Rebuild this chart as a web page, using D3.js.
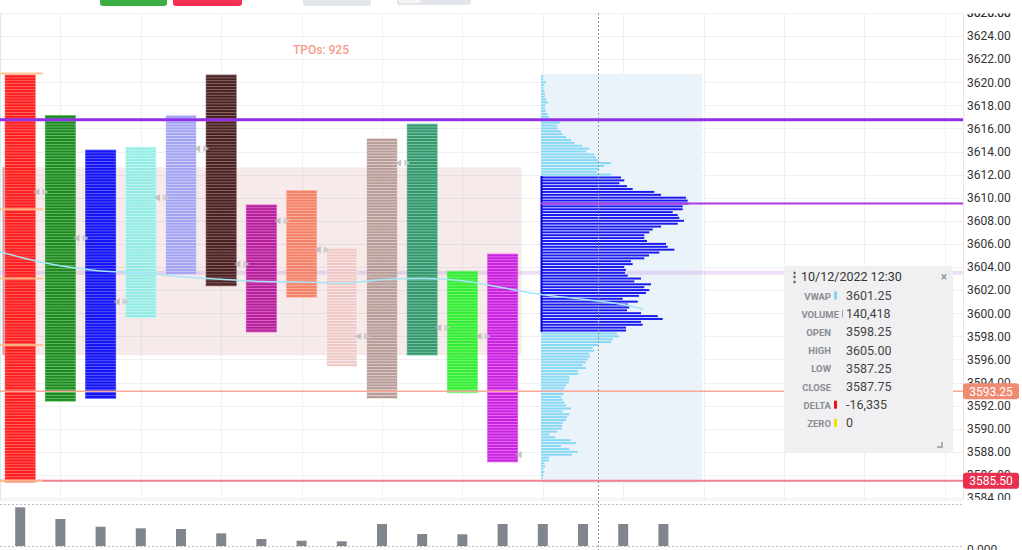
<!DOCTYPE html>
<html>
<head>
<meta charset="utf-8">
<script src="https://cdn.jsdelivr.net/npm/d3@7"></script>
<style>
  body { margin: 0; background: #fff; overflow: hidden; }
  svg { display: block; font-family: Roboto, "Noto Sans", sans-serif; }
</style>
</head>
<body>
<svg id="chart" width="1022" height="550"></svg>
<script>
// --- data ---
const periods = ["06:30", "07:00", "07:30", "08:00", "08:30", "09:00", "09:30", "10:00", "10:30",
  "11:00", "11:30", "12:00", "12:30", "13:00", "13:30", "14:00", "14:30"];

// TPO columns (one per 30 min period)
const tpoHigh = [3620.5, 3617, 3614, 3614.25, 3617, 3620.5, 3609.25, 3610.5, 3605.5, 3615, 3616.25, 3603.5, 3605];
const tpoLow = [3585.5, 3592.5, 3592.75, 3599.75, 3603.5, 3602.5, 3598.5, 3601.5, 3595.5, 3592.75, 3596.5, 3593.25, 3587.25];
const tpoClose = [3610.5, 3606.5, 3601, 3610, 3614.25, 3604.25, 3608, 3605.5, 3598, 3613, 3598.75, 3598, 3587.75];
const tpoColors = ["#ff1f1f", "#1f8a22", "#1414f5", "#93ebe2", "#a3a3f3", "#4a2222", "#b3229a",
  "#f4826b", "#efc8c6", "#b59d99", "#36976f", "#35ec35", "#c326dc"];

// volume bars in the lower pane
const barVolume = [247000, 172300, 123200, 113000, 108500, 81000, 44700, 33800, 30000, 140400,
  76600, 74700, 140418, 140418, 140418, 140418, 140418];

// VWAP curve (period index, price)
const vwapSlot = [-1, -0.5, 0, 1, 2, 3, 4, 5, 6, 7, 8, 9, 10, 11, 12, 13, 14, 15, 15.5];
const vwapPrice = [3605.7, 3605.3, 3604.85, 3604.1, 3603.65, 3603.5, 3603.15, 3602.95, 3602.75, 3602.7,
  3602.6, 3602.9, 3603, 3602.8, 3602.2, 3601.6, 3601.2, 3600.75, 3600.35];

// volume profile, one value per 0.25 from the top price down
const profileTop = 3620.5;
const profileVolume = [92, 92, 200, 132, 92, 132, 160, 148, 200, 268, 172, 160, 200, 268, 308, 440, 760, 628, 668, 800,
  868, 1000, 1200, 1332, 1640, 1932, 1800, 2132, 2200, 2268, 2800, 2532, 2332, 2240, 2800,
  3200, 3332, 3132, 3440, 3668, 4532, 4800, 5800, 5868, 5900, 5668, 5668, 5268, 5468, 5532,
  5720, 5468, 4800, 4468, 4332, 4132, 4132, 4240, 5000, 5068, 5332, 4732, 4320, 4132, 3600,
  3668, 3332, 3400, 3360, 3468, 4000, 3732, 4400, 4132, 4332, 4200, 3920, 3268, 3868, 3468,
  3532, 3440, 4000, 4668, 4868, 4000, 4068, 3400, 3400,
  3040, 3132, 2868, 2800, 2300, 2068, 2132, 1932, 1960, 1868, 1800, 1668, 1800, 1468, 1508,
  1132, 1132, 1108, 1000, 932, 868, 900, 800, 868, 932, 1000, 1200, 868, 1132, 1040, 1000,
  868, 840, 840, 640, 332, 572, 1200, 1400, 800, 1132, 1468, 1240, 332, 308, 132, 160, 92, 132, 92, 68];
const profileVAHigh = 3611.75, profileVALow = 3598.5, profilePOC = 3609.5;

// TPO value area box
const vaHigh = 3612.5, vaLow = 3596.5;

// reference lines
const highLine = 3616.75, midLine = 3603.5, lastLine = 3593.25, lowLine = 3585.5;
const sideTicks = [3620.75, 3609, 3603, 3597.25, 3585.5];

// tooltip
const tipTitle = "10/12/2022 12:30";
const tipLabels = ["VWAP", "VOLUME", "OPEN", "HIGH", "LOW", "CLOSE", "DELTA", "ZERO"];
const tipValues = ["3601.25", "140,418", "3598.25", "3605.00", "3587.25", "3587.75", "-16,335", "0"];
const tipMarks = ["#7fd8f5", "#a0a4aa", null, null, null, null, "#ee1111", "#f2e000"];

const axisTicks = d3.range(3584, 3627, 2);
const badges = [{ price: 3593.25, color: "#f08a72" }, { price: 3585.5, color: "#e9304e" }];

// --- layout ---
const plotRight = 963, plotTop = 13, plotBottom = 500;
const svg = d3.select("#chart");

const xs = d3.scaleLinear().domain([0, 1]).range([20.2, 60.4]);
const ys = d3.scaleLinear().domain([3584, 3624]).range([498, 36]);
const vs = d3.scaleLinear().domain([0, 260000]).range([546, 505.27]);
const rowH = ys(0) - ys(0.25);

svg.append("defs").append("clipPath").attr("id", "plotClip")
  .append("rect").attr("x", 0).attr("y", plotTop).attr("width", plotRight).attr("height", plotBottom - plotTop);
svg.select("defs").append("clipPath").attr("id", "axisClip")
  .append("rect").attr("x", plotRight).attr("y", 13.5).attr("width", 60).attr("height", plotBottom - 13.5);

const plot = svg.append("g").attr("clip-path", "url(#plotClip)");

// grid
plot.selectAll(".hgrid").data(axisTicks.concat([3626])).enter().append("line")
  .attr("x1", 0).attr("x2", plotRight)
  .attr("y1", d => Math.round(ys(d)) + 0.5).attr("y2", d => Math.round(ys(d)) + 0.5)
  .attr("stroke", "#eef0f3");
plot.selectAll(".vgrid").data(d3.range(1, 24, 2)).enter().append("line")
  .attr("x1", d => Math.round(xs(d)) + 0.5).attr("x2", d => Math.round(xs(d)) + 0.5)
  .attr("y1", plotTop).attr("y2", plotBottom)
  .attr("stroke", "#eef0f3");
plot.append("line").attr("x1", 0.5).attr("x2", 0.5).attr("y1", plotTop).attr("y2", 550).attr("stroke", "#e3e8ef");

// value area box
plot.append("rect")
  .attr("x", xs(0) - 18).attr("width", xs(12) + 19 - (xs(0) - 18))
  .attr("y", ys(vaHigh) - rowH / 2).attr("height", ys(vaLow) - ys(vaHigh) + rowH)
  .attr("fill", "rgba(215,160,160,0.22)");
plot.append("line")
  .attr("x1", 3.5).attr("x2", 3.5)
  .attr("y1", ys(vaHigh) - rowH / 2).attr("y2", ys(vaLow) + rowH / 2)
  .attr("stroke", "#cfa3a3").attr("stroke-width", 2);

// profile background
const profX = xs(13) - 1.8;
const ps = d3.scaleLinear().domain([0, 6440]).range([0, 161]);
const profPrices = profileVolume.map((v, i) => profileTop - i * 0.25);
plot.append("rect")
  .attr("x", profX).attr("width", ps(6440))
  .attr("y", ys(profileTop) - rowH / 2 - 1)
  .attr("height", ys(profPrices[profPrices.length - 1]) - ys(profileTop) + rowH + 5)
  .attr("fill", "#eaf2fa");

// faint mid line
plot.append("line").attr("x1", 0).attr("x2", plotRight)
  .attr("y1", ys(midLine)).attr("y2", ys(midLine))
  .attr("stroke", "rgba(205,160,232,0.35)").attr("stroke-width", 4);

// TPO columns, one rect per 0.25 row
tpoHigh.forEach((hi, i) => {
  const rows = d3.range(tpoLow[i], hi + 0.01, 0.25);
  const col = plot.append("g");
  col.append("rect")
    .attr("x", xs(i) - 15.5).attr("width", 31)
    .attr("y", ys(hi) - rowH / 2 - 0.5).attr("height", ys(tpoLow[i]) - ys(hi) + rowH + 1)
    .attr("fill", d3.color(tpoColors[i]).brighter(0.7)).attr("opacity", 0.6);
  col.selectAll("rect.row").data(rows).enter().append("rect")
    .attr("class", "row")
    .attr("x", xs(i) - 15).attr("width", 30)
    .attr("y", d => ys(d) - rowH / 2 + 0.35).attr("height", rowH - 0.7)
    .attr("fill", tpoColors[i]);
});

// volume profile bars
plot.selectAll("rect.prof").data(profileVolume).enter().append("rect")
  .attr("class", "prof")
  .attr("x", profX)
  .attr("y", (d, i) => ys(profPrices[i]) - rowH / 2 + 0.45)
  .attr("height", rowH - 0.9)
  .attr("width", d => ps(d))
  .attr("fill", (d, i) => profPrices[i] <= profileVAHigh && profPrices[i] >= profileVALow ? "#1a1af0" : "#86d8f5");
plot.append("line")
  .attr("x1", profX + 0.5).attr("x2", profX + 0.5)
  .attr("y1", ys(profileVAHigh) - rowH / 2).attr("y2", ys(profileVALow) + rowH / 2)
  .attr("stroke", "#0808d8").attr("stroke-width", 2);

// close / open markers between columns
const tri = d3.symbol().type(d3.symbolTriangle).size(22);
tpoClose.forEach((c, i) => {
  const bx = xs(i + 0.5);
  plot.append("path").attr("d", tri)
    .attr("transform", `translate(${bx - 3},${ys(c)}) rotate(-90)`)
    .attr("fill", "#b8b8b8").attr("opacity", 0.8);
  if (i < tpoClose.length - 1) {
    plot.append("path").attr("d", tri)
      .attr("transform", `translate(${bx + 4},${ys(c)}) rotate(90)`)
      .attr("fill", "#c8c8c8").attr("opacity", 0.8);
  }
});

// VWAP
plot.append("path")
  .datum(vwapSlot.map((s, i) => [s, vwapPrice[i]]))
  .attr("d", d3.line().x(d => xs(d[0])).y(d => ys(d[1])).curve(d3.curveMonotoneX))
  .attr("fill", "none").attr("stroke", "#a6e6f7").attr("stroke-width", 1.5);

// level lines
plot.append("line").attr("x1", 0).attr("x2", plotRight)
  .attr("y1", ys(highLine)).attr("y2", ys(highLine))
  .attr("stroke", "#8f2fe8").attr("stroke-width", 3);
plot.append("line").attr("x1", profX).attr("x2", plotRight)
  .attr("y1", ys(profilePOC)).attr("y2", ys(profilePOC))
  .attr("stroke", "#ad3ae6").attr("stroke-width", 2);
plot.append("line").attr("x1", 0).attr("x2", plotRight)
  .attr("y1", ys(lastLine)).attr("y2", ys(lastLine))
  .attr("stroke", "#f7a898").attr("stroke-width", 1.5);
plot.append("line").attr("x1", 0).attr("x2", plotRight)
  .attr("y1", ys(lowLine)).attr("y2", ys(lowLine))
  .attr("stroke", "#f0808f").attr("stroke-width", 2);

plot.selectAll(".sidetick").data(sideTicks).enter().append("line")
  .attr("x1", 0).attr("x2", 43)
  .attr("y1", d => ys(d)).attr("y2", d => ys(d))
  .attr("stroke", "#ffc08c").attr("stroke-width", 2).attr("opacity", 0.9);

// crosshair
svg.append("line").attr("x1", 598.5).attr("x2", 598.5).attr("y1", plotTop).attr("y2", 550)
  .attr("stroke", "#999").attr("stroke-dasharray", "2,2");

// TPO count
svg.append("text").attr("x", 321).attr("y", 54).attr("text-anchor", "middle")
  .attr("font-size", 12).attr("font-weight", 500).attr("fill", "#f59c8a")
  .text("TPOs: 925");

// tooltip
const tip = svg.append("g").attr("transform", "translate(784,266)");
tip.append("rect").attr("width", 169).attr("height", 187).attr("rx", 3)
  .attr("fill", "#eff0f2").attr("opacity", 0.97);
tip.append("text").attr("x", 4).attr("y", 15).attr("font-size", 13).attr("font-weight", 700)
  .attr("fill", "#555").text("⋮");
tip.append("text").attr("x", 17).attr("y", 15).attr("font-size", 12.5).attr("fill", "#333").text(tipTitle);
tip.append("text").attr("x", 160).attr("y", 15).attr("font-size", 12).attr("text-anchor", "middle")
  .attr("fill", "#888").text("×");
tip.append("path").attr("d", "M158,176 V181 H153").attr("fill", "none").attr("stroke", "#999").attr("stroke-width", 1.5);
tipLabels.forEach((lab, i) => {
  const ty = 33.5 + i * 18.2;
  const thin = lab === "VOLUME";
  tip.append("text").attr("x", thin ? 55 : 47).attr("y", ty).attr("text-anchor", "end")
    .attr("font-size", 9.5).attr("font-weight", 700).attr("fill", "#8a8d92").text(lab);
  if (tipMarks[i]) {
    tip.append("rect").attr("x", thin ? 58 : 50).attr("y", ty - 8).attr("width", thin ? 1 : 3).attr("height", 8)
      .attr("fill", tipMarks[i]);
  }
  tip.append("text").attr("x", 62).attr("y", ty + 0.5).attr("font-size", 12.5).attr("fill", "#444").text(tipValues[i]);
});

// price axis
const axG = svg.append("g").attr("clip-path", "url(#axisClip)");
axG.append("line").attr("x1", plotRight + 0.5).attr("x2", plotRight + 0.5).attr("y1", 0).attr("y2", 550)
  .attr("stroke", "#e3e6ea");
const ax = axG.append("g").attr("transform", `translate(${plotRight},0)`)
  .call(d3.axisRight(ys).tickValues(axisTicks.concat([3626])).tickFormat(d3.format(".2f")).tickSize(0).tickPadding(4));
ax.select(".domain").remove();
ax.selectAll("text").attr("font-size", 12).attr("font-family", "Roboto, sans-serif").attr("fill", "#333");

badges.forEach(b => {
  axG.append("rect").attr("x", plotRight).attr("y", ys(b.price) - 8).attr("width", 56).attr("height", 16)
    .attr("rx", 3).attr("fill", b.color);
  axG.append("text").attr("x", plotRight + 28).attr("y", ys(b.price) + 4.5).attr("text-anchor", "middle")
    .attr("font-size", 12).attr("fill", "#fff").text(d3.format(".2f")(b.price));
});

// volume pane
const volG = svg.append("g");
volG.append("line").attr("x1", 0).attr("x2", plotRight).attr("y1", 500.5).attr("y2", 500.5).attr("stroke", "#eef0f3");
[vs(268000), vs(0)].forEach(yv => {
  volG.append("line").attr("x1", 0).attr("x2", plotRight).attr("y1", Math.round(yv) + 0.5).attr("y2", Math.round(yv) + 0.5)
    .attr("stroke", "#b9bcc1").attr("stroke-dasharray", "2,2");
});
volG.selectAll("rect.vol").data(barVolume).enter().append("rect")
  .attr("class", "vol")
  .attr("x", (d, i) => xs(i) - 5).attr("width", 10)
  .attr("y", d => vs(d)).attr("height", d => vs(0) - vs(d))
  .attr("fill", "#80858e");
svg.append("text").attr("x", plotRight + 4).attr("y", 554).attr("font-size", 12).attr("fill", "#333").text("0.000");

// toolbar buttons peeking in at the top
const btns = [
  { x: 100, w: 67, h: 6, c: "#3db044" },
  { x: 173, w: 69, h: 6, c: "#f53055" },
  { x: 303, w: 68, h: 6, c: "#e2e5e9" },
  { x: 397, w: 74, h: 5, c: "#e2e5e9" }
];
btns.forEach(b => {
  svg.append("rect").attr("x", b.x).attr("y", -4).attr("width", b.w).attr("height", b.h + 4).attr("rx", 3).attr("fill", b.c);
});
svg.append("rect").attr("x", 399).attr("y", -4).attr("width", 22).attr("height", 7).attr("rx", 2).attr("fill", "#f4f5f7");
</script>
</body>
</html>
